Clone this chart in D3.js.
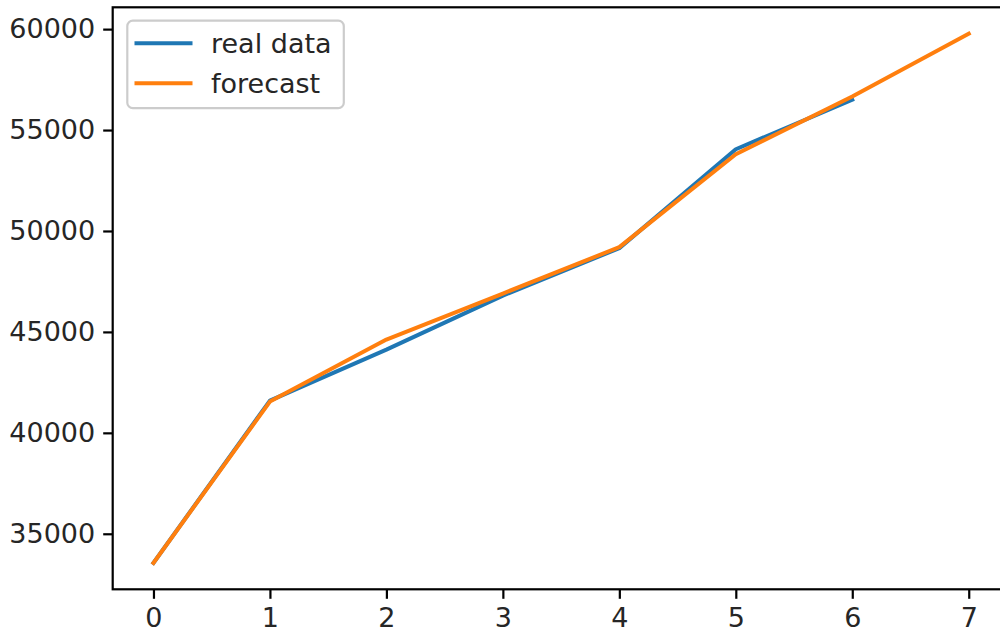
<!DOCTYPE html>
<html>
<head>
<meta charset="utf-8">
<script src="https://cdn.jsdelivr.net/npm/d3@7"></script>
<style>
  html, body { margin: 0; padding: 0; background: #fff; }
  svg { display: block; }
  text { font-family: "DejaVu Sans", sans-serif; fill: #262626; }
</style>
</head>
<body>
<svg id="chart" width="1000" height="634"></svg>
<script>
// Periods on the x axis
const periods = [0, 1, 2, 3, 4, 5, 6, 7];
// Observed values (periods 0..6)
const realData = [33560, 41600, 44120, 46800, 49150, 54050, 56500];
// Model forecast (periods 0..7)
const forecast = [33560, 41550, 44620, 46900, 49200, 53800, 56660, 59770];
const yTicks = [35000, 40000, 45000, 50000, 55000, 60000];
const xTicks = [0, 1, 2, 3, 4, 5, 6, 7];
const seriesNames = ["real data", "forecast"];
const colors = ["#1f77b4", "#ff7f0e"];

const fs = 27;            // base font size
const lw = 4;             // line width
const spineW = 2.2;
const tickLen = 9.5;

const plot = { left: 112.7, top: 7.3, right: 1009.5, bottom: 589.3 };

const svg = d3.select("#chart");

// x: 5% margins around the data range
const xMin = d3.min(periods), xMax = d3.max(periods);
const xPad = (xMax - xMin) * 0.05;
const x = d3.scaleLinear().domain([xMin - xPad, xMax + xPad]).range([plot.left, plot.right]);

const allY = realData.concat(forecast);
const yMin = d3.min(allY), yMax = d3.max(allY);
const yPad = (yMax - yMin) * 0.05;
const y = d3.scaleLinear().domain([yMin - yPad, yMax + yPad]).range([plot.bottom, plot.top]);

// lines
const line = d3.line().x((d, i) => x(periods[i])).y(d => y(d));
const series = [realData, forecast];
series.forEach((vals, k) => {
  svg.append("path")
    .datum(vals)
    .attr("d", line)
    .attr("fill", "none")
    .attr("stroke", colors[k])
    .attr("stroke-width", lw)
    .attr("stroke-linejoin", "round")
    .attr("stroke-linecap", "square");
});

// axes
const xAxis = d3.axisBottom(x).tickValues(xTicks).tickFormat(d3.format("d"))
  .tickSize(tickLen).tickPadding(9);
const yAxis = d3.axisLeft(y).tickValues(yTicks).tickFormat(d3.format("d"))
  .tickSize(tickLen).tickPadding(8);

const gx = svg.append("g").attr("transform", `translate(0,${plot.bottom})`).call(xAxis);
const gy = svg.append("g").attr("transform", `translate(${plot.left},0)`).call(yAxis);
[gx, gy].forEach(g => {
  g.select(".domain").remove();
  g.selectAll(".tick line").attr("stroke", "#000").attr("stroke-width", spineW);
  g.selectAll(".tick text").style("font-size", fs + "px").attr("fill", "#262626")
    .style("font-family", "DejaVu Sans");
});

// spines
svg.append("rect")
  .attr("x", plot.left).attr("y", plot.top)
  .attr("width", plot.right - plot.left).attr("height", plot.bottom - plot.top)
  .attr("fill", "none").attr("stroke", "#000").attr("stroke-width", spineW);

// legend
const lg = svg.append("g");
lg.append("rect")
  .attr("x", 127.3).attr("y", 20.7)
  .attr("width", 216.5).attr("height", 87.5)
  .attr("rx", 5.5).attr("ry", 5.5)
  .attr("fill", "#fff").attr("fill-opacity", 0.8)
  .attr("stroke", "#cccccc").attr("stroke-width", 2.2);
seriesNames.forEach((name, k) => {
  const cy = 43.3 + k * 40;
  lg.append("line")
    .attr("x1", 136.5).attr("x2", 190.5)
    .attr("y1", cy).attr("y2", cy)
    .attr("stroke", colors[k]).attr("stroke-width", lw)
    .attr("stroke-linecap", "square");
  lg.append("text")
    .attr("x", 211).attr("y", cy)
    .attr("dy", "0.35em")
    .style("font-size", fs + "px")
    .text(name);
});
</script>
</body>
</html>
